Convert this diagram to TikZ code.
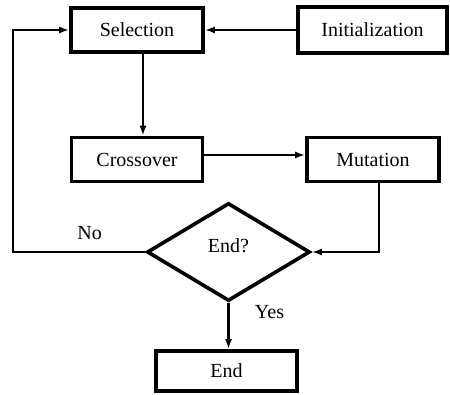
\documentclass[tikz,border=0pt]{standalone}
\usepackage{fontspec}
\setmainfont{Liberation Serif}
\usetikzlibrary{arrows.meta,positioning,calc,shapes.geometric}

\begin{document}
\begin{tikzpicture}[x=1pt,y=-1pt,>={Latex[length=10pt,width=7pt]},
    font=\fontsize{20}{24}\selectfont,
    stage/.style={draw,line width=3.6pt,inner sep=0pt,minimum height=44pt},
    decision/.style={draw,diamond,line width=3.6pt,inner sep=0pt,minimum width=163pt,minimum height=98pt},
    link/.style={line width=2.3pt}]
  \useasboundingbox (0,0) rectangle (450,394);
  \node[stage,minimum width=132pt] (sel) at (137,30) {Selection};
  \node[stage,minimum width=149pt,minimum height=46pt] (init) at (372.5,30) {Initialization};
  \node[stage,minimum width=131pt] (cross) at (137,159.5) {Crossover};
  \node[stage,minimum width=132pt] (mut) at (373,159.5) {Mutation};
  \node[decision] (dec) at (228.5,252) {};
  \node at (228.5,246) {End?};
  \node[stage,minimum width=141pt,minimum height=40pt] (fin) at (226.5,371) {End};
  \coordinate (back) at (13,252);
  \draw[link,->] (init) -- (sel);
  \draw[link,->] ([xshift=6pt]sel.south) -- ([xshift=6pt]cross.north);
  \draw[link,->] ([yshift=4.5pt]cross.east) -- ([yshift=4.5pt]mut.west);
  \draw[link,->] ([xshift=6pt]mut.south) |- (dec.east);
  \draw[link,->] (dec.west) -- (back) node[pos=0.42,above=8pt] {No} |- (sel.west);
  \draw[link,->] (dec.south) -- (dec.south |- fin.north) node[pos=0.2,right=22pt] {Yes};
\end{tikzpicture}
\end{document}
